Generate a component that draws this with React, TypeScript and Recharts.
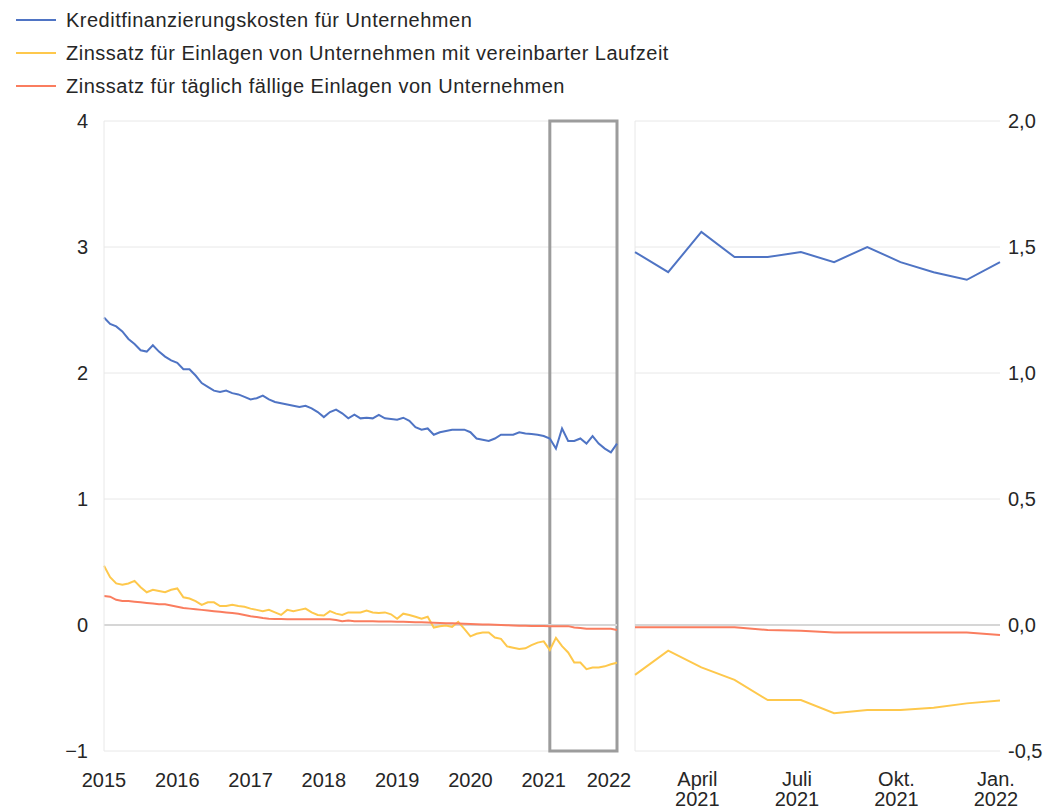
import {
  LineChart,
  Line,
  XAxis,
  YAxis,
  CartesianGrid,
  ReferenceLine,
  ReferenceArea,
} from "recharts";

// monthly, Jan 2015 .. Jan 2022
const yearLabels = ["2015", "2016", "2017", "2018", "2019", "2020", "2021", "2022"];

const kredit = [
  2.44, 2.39, 2.37, 2.33, 2.27, 2.23, 2.18, 2.17, 2.22, 2.17, 2.13, 2.1,
  2.08, 2.03, 2.03, 1.98, 1.92, 1.89, 1.86, 1.85, 1.86, 1.84, 1.83, 1.81,
  1.79, 1.8, 1.82, 1.79, 1.77, 1.76, 1.75, 1.74, 1.73, 1.74, 1.72, 1.69,
  1.65, 1.69, 1.71, 1.68, 1.64, 1.67, 1.64, 1.645, 1.64, 1.667, 1.64, 1.635,
  1.63, 1.645, 1.62, 1.57, 1.55, 1.56, 1.51, 1.53, 1.54, 1.55, 1.55, 1.55,
  1.53, 1.48, 1.47, 1.46, 1.48, 1.51, 1.51, 1.51, 1.53, 1.52, 1.515, 1.51,
  1.5, 1.48, 1.4, 1.56, 1.46, 1.46, 1.48, 1.44, 1.5, 1.44, 1.4, 1.37,
  1.44,
];

const festgeld = [
  0.47, 0.38, 0.33, 0.32, 0.33, 0.35, 0.3, 0.26, 0.28, 0.27, 0.26, 0.28,
  0.29, 0.22, 0.21, 0.19, 0.16, 0.18, 0.18, 0.15, 0.15, 0.16, 0.15, 0.145,
  0.13, 0.12, 0.11, 0.12, 0.1, 0.08, 0.12, 0.11, 0.12, 0.13, 0.1, 0.08,
  0.075, 0.11, 0.09, 0.08, 0.1, 0.1, 0.1, 0.115, 0.1, 0.095, 0.1, 0.085,
  0.05, 0.09, 0.08, 0.065, 0.05, 0.065, -0.02, -0.01, -0.005, -0.015, 0.025, -0.03,
  -0.09, -0.07, -0.06, -0.06, -0.1, -0.11, -0.17, -0.18, -0.19, -0.185, -0.16, -0.14,
  -0.13, -0.198, -0.102, -0.168, -0.218, -0.298, -0.298, -0.35, -0.337, -0.337, -0.328, -0.311,
  -0.3,
];

const taeglich = [
  0.23, 0.225, 0.2, 0.19, 0.19, 0.185, 0.18, 0.175, 0.17, 0.165, 0.165, 0.155,
  0.145, 0.135, 0.13, 0.125, 0.12, 0.115, 0.11, 0.105, 0.1, 0.095, 0.09, 0.08,
  0.07, 0.063, 0.055, 0.05, 0.048, 0.047, 0.045, 0.045, 0.045, 0.045, 0.045, 0.045,
  0.045, 0.045, 0.04, 0.03, 0.035, 0.03, 0.03, 0.03, 0.03, 0.028, 0.028, 0.027,
  0.026, 0.025, 0.024, 0.022, 0.021, 0.02, 0.018, 0.016, 0.014, 0.013, 0.011, 0.009,
  0.007, 0.005, 0.004, 0.003, 0.002, 0.0, -0.002, -0.004, -0.005, -0.006, -0.007, -0.008,
  -0.008, -0.009, -0.009, -0.009, -0.009, -0.02, -0.023, -0.03, -0.03, -0.03, -0.03, -0.03,
  -0.04,
];

// zoomed panel: Feb 2021 .. Jan 2022
const ZOOM_START = 73;
const zoomTicks = [2, 5, 8, 11];
const zoomLabels = [
  ["April", "2021"],
  ["Juli", "2021"],
  ["Okt.", "2021"],
  ["Jan.", "2022"],
];

const seriesNames = [
  "Kreditfinanzierungskosten für Unternehmen",
  "Zinssatz für Einlagen von Unternehmen mit vereinbarter Laufzeit",
  "Zinssatz für täglich fällige Einlagen von Unternehmen",
];

const colors = {
  kredit: "#4f74c4",
  festgeld: "#fec84c",
  taeglich: "#fa7d5f",
  grid: "#e8e8e8",
  zero: "#d6d6d6",
  box: "#9c9c9c",
  text: "#262626",
};

const FONT = "'Liberation Sans', Arial, sans-serif";
const FS = 20;

const longData = kredit.map((v, i) => ({
  m: i,
  kredit: v,
  festgeld: festgeld[i],
  taeglich: taeglich[i],
}));
const zoomData = longData.slice(ZOOM_START).map((d, i) => ({ ...d, m: i }));

function YearTick({ x, y, payload }: any) {
  const idx = Math.round(payload.value / 12);
  const last = idx === yearLabels.length - 1;
  return (
    <text
      x={last ? x - 8 : x}
      y={y + 34}
      textAnchor="middle"
      fill={colors.text}
      fontSize={FS}
      fontFamily={FONT}
    >
      {yearLabels[idx]}
    </text>
  );
}

function ZoomTick({ x, y, payload }: any) {
  const lbl = zoomLabels[zoomTicks.indexOf(payload.value)] || ["", ""];
  return (
    <text
      x={x - 4}
      textAnchor="middle"
      fill={colors.text}
      fontSize={FS}
      fontFamily={FONT}
    >
      <tspan x={x - 4} y={y + 33}>
        {lbl[0]}
      </tspan>
      <tspan x={x - 4} y={y + 53}>
        {lbl[1]}
      </tspan>
    </text>
  );
}

const lines = (
  [
    ["kredit", colors.kredit],
    ["festgeld", colors.festgeld],
    ["taeglich", colors.taeglich],
  ] as const
).map(([key, c]) => (
  <Line
    key={key}
    type="linear"
    dataKey={key}
    stroke={c}
    strokeWidth={2}
    dot={false}
    isAnimationActive={false}
  />
));

export default function App() {
  const tickStyle = { fill: colors.text, fontSize: FS, fontFamily: FONT };
  return (
    <div
      style={{
        position: "absolute",
        left: 0,
        top: 0,
        width: 1048,
        height: 809,
        background: "#fff",
        fontFamily: FONT,
        overflow: "hidden",
      }}
    >
      {/* legend */}
      {seriesNames.map((name, i) => (
        <div
          key={name}
          style={{
            position: "absolute",
            left: 16,
            top: 8 + i * 33,
            height: 24,
            display: "flex",
            alignItems: "center",
            fontSize: FS,
            letterSpacing: 0.5,
            color: colors.text,
            whiteSpace: "nowrap",
          }}
        >
          <span
            style={{
              display: "inline-block",
              width: 40,
              height: 2,
              marginRight: 10,
              background: [colors.kredit, colors.festgeld, colors.taeglich][i],
            }}
          />
          {name}
        </div>
      ))}

      {/* long history panel */}
      <div style={{ position: "absolute", left: 0, top: 0 }}>
        <LineChart
          width={640}
          height={809}
          data={longData}
          margin={{ top: 121, right: 23, bottom: 0, left: 0 }}
        >
          <CartesianGrid vertical={false} stroke={colors.grid} />
          <XAxis
            dataKey="m"
            type="number"
            domain={[0, 84]}
            ticks={[0, 12, 24, 36, 48, 60, 72, 84]}
            height={58}
            axisLine={false}
            tickLine={false}
            tickSize={0}
            tick={<YearTick />}
            interval={0}
          />
          <YAxis
            type="number"
            domain={[-1, 4]}
            ticks={[-1, 0, 1, 2, 3, 4]}
            width={104}
            axisLine={{ stroke: colors.grid }}
            tickLine={false}
            tickSize={0}
            tickMargin={16}
            tick={tickStyle}
            tickFormatter={(v: number) => (v < 0 ? "\u2212" + Math.abs(v) : String(v))}
          />
          <ReferenceLine y={0} stroke={colors.zero} strokeWidth={2} />
          {lines}
          <ReferenceArea
            x1={ZOOM_START}
            x2={84}
            y1={-1}
            y2={4}
            fill="none"
            stroke={colors.box}
            strokeWidth={3}
          />
        </LineChart>
      </div>

      {/* zoomed panel */}
      <div style={{ position: "absolute", left: 620, top: 0 }}>
        <LineChart
          width={428}
          height={809}
          data={zoomData}
          margin={{ top: 121, right: 0, bottom: 0, left: 15 }}
        >
          <CartesianGrid vertical={false} stroke={colors.grid} />
          <XAxis
            dataKey="m"
            type="number"
            domain={[0, 11]}
            ticks={zoomTicks}
            height={58}
            axisLine={false}
            tickLine={false}
            tickSize={0}
            tick={<ZoomTick />}
            interval={0}
          />
          <YAxis
            orientation="right"
            type="number"
            domain={[-0.5, 2]}
            ticks={[-0.5, 0, 0.5, 1, 1.5, 2]}
            width={48}
            axisLine={false}
            tickLine={false}
            tickSize={0}
            tickMargin={8}
            tick={tickStyle}
            tickFormatter={(v: number) => v.toFixed(1).replace(".", ",")}
          />
          <ReferenceLine x={0} stroke={colors.grid} />
          <ReferenceLine y={0} stroke={colors.zero} strokeWidth={2} />
          {lines}
        </LineChart>
      </div>
    </div>
  );
}
